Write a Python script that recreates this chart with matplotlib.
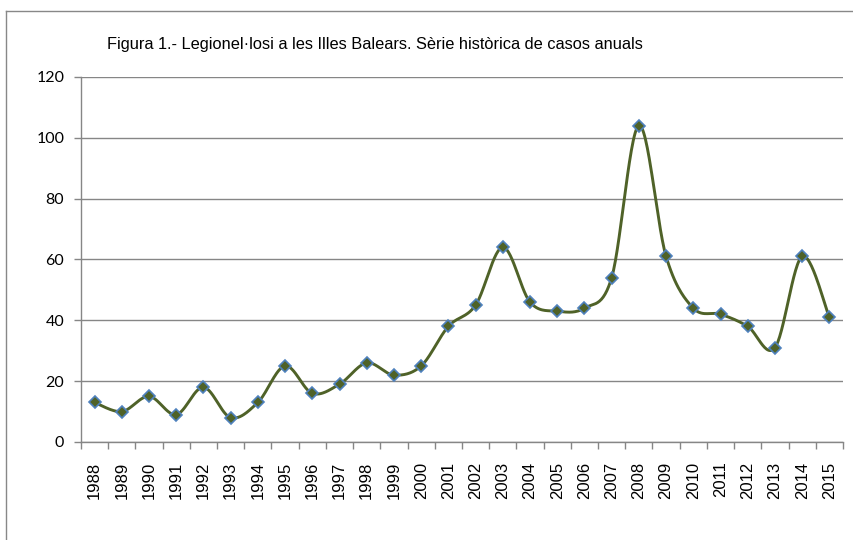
import numpy as np
import matplotlib.pyplot as plt
from matplotlib.lines import Line2D

# dades: casos anuals de legionel·losi
anys = ['1988', '1989', '1990', '1991', '1992', '1993', '1994', '1995', '1996', '1997',
        '1998', '1999', '2000', '2001', '2002', '2003', '2004', '2005', '2006', '2007',
        '2008', '2009', '2010', '2011', '2012', '2013', '2014', '2015']
casos = [13, 10, 15, 9, 18, 8, 13, 25, 16, 19,
         26, 22, 25, 38, 45, 64, 46, 43, 44, 54,
         104, 61, 44, 42, 38, 31, 61, 41]

titol = 'Figura 1.- Legionel·losi a les Illes Balears. Sèrie històrica de casos anuals'


def suavitza(x, y, n=30):
    # corba tipus Excel (Bezier amb punts de control Catmull-Rom)
    x = np.asarray(x, float)
    y = np.asarray(y, float)
    px = np.concatenate([[x[0]], x, [x[-1]]])
    py = np.concatenate([[y[0]], y, [y[-1]]])
    t = np.linspace(0, 1, n)[:, None]
    xs, ys = [], []
    for i in range(len(x) - 1):
        p0 = np.array([px[i + 1], py[i + 1]])
        p3 = np.array([px[i + 2], py[i + 2]])
        p1 = p0 + (p3 - np.array([px[i], py[i]])) / 6
        p2 = p3 - (np.array([px[i + 3], py[i + 3]]) - p0) / 6
        b = ((1 - t) ** 3) * p0 + 3 * ((1 - t) ** 2) * t * p1 + 3 * (1 - t) * t ** 2 * p2 + t ** 3 * p3
        xs.append(b[:, 0])
        ys.append(b[:, 1])
    return np.concatenate(xs), np.concatenate(ys)


fig = plt.figure(figsize=(8.54, 5.40), dpi=100)
ax = fig.add_axes([0.0948, 0.1815, 0.8923, 0.676])

xpos = np.arange(len(anys))
sx, sy = suavitza(xpos, casos)
ax.plot(sx, sy, color='#4F6228', linewidth=2.1, zorder=3)
ax.plot(xpos, casos, linestyle='none', marker='D', markersize=6,
        markerfacecolor='#4F6228', markeredgecolor='#4F81BD', markeredgewidth=1.2, zorder=4)

ax.set_xlim(-0.5, len(anys) - 0.5)
ax.set_ylim(0, 120)
ax.set_yticks(np.arange(0, 121, 20))
ax.set_xticks(xpos)
ax.set_xticklabels(anys, rotation=90, fontfamily='Liberation Sans', fontsize=12)
ax.set_xticks(np.arange(-0.5, len(anys), 1), minor=True)
ax.tick_params(axis='x', which='major', length=0, pad=14)
ax.tick_params(axis='x', which='minor', length=5, color='#868686', width=1)
ax.tick_params(axis='y', length=5, color='#868686', width=1, pad=7, labelsize=11.5)
for lab in ax.get_yticklabels():
    lab.set_fontfamily('Lato')

ax.grid(axis='y', color='#868686', linewidth=1)
ax.set_axisbelow(True)
for s in ['top', 'right']:
    ax.spines[s].set_visible(False)
for s in ['left', 'bottom']:
    ax.spines[s].set_color('#868686')
    ax.spines[s].set_linewidth(1)

fig.text(107 / 854, 1 - 45 / 540, titol, fontfamily='Liberation Sans', fontsize=11.8,
         va='center', ha='left')

# marc del gràfic
fig.add_artist(Line2D([6 / 854, 6 / 854], [0, 1 - 11 / 540], transform=fig.transFigure,
                      color='#888888', linewidth=1))
fig.add_artist(Line2D([6 / 854, 1], [1 - 11 / 540, 1 - 11 / 540], transform=fig.transFigure,
                      color='#888888', linewidth=1))

fig.savefig('out.png', dpi=100)
